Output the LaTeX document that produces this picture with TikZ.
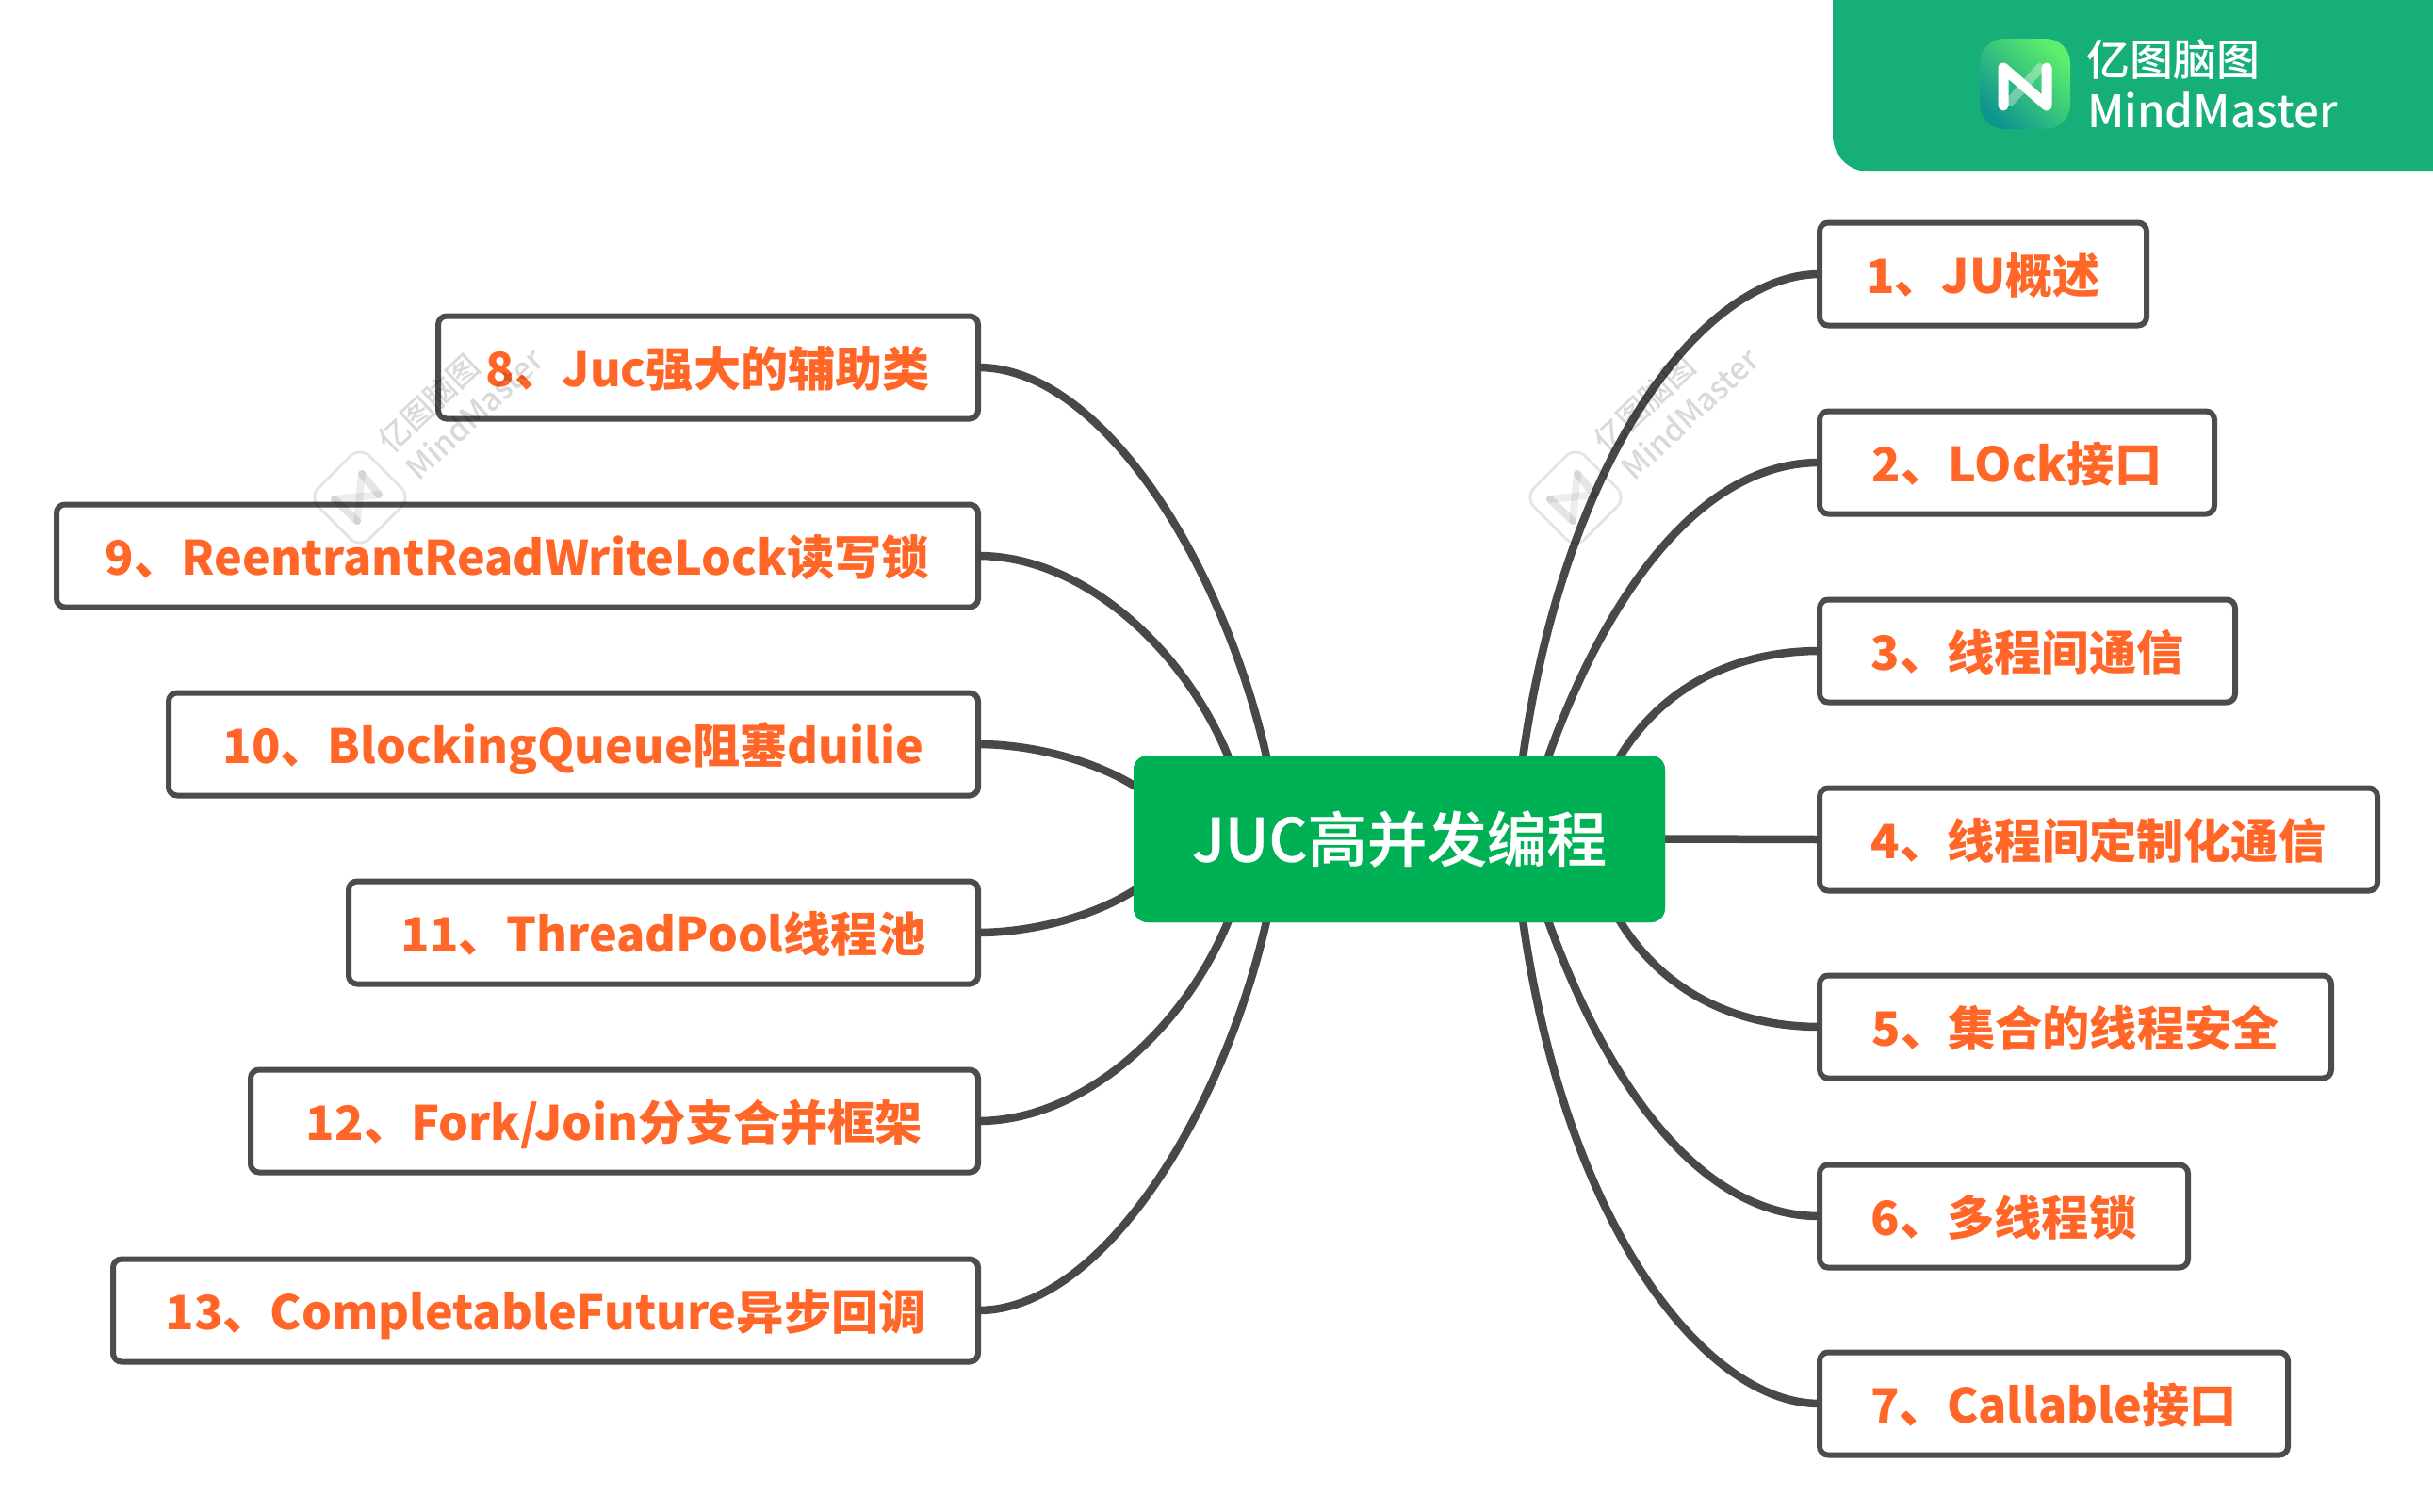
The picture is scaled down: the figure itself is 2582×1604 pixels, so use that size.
\documentclass[tikz,border=0pt]{standalone}
\usepackage{fontspec}
\setmainfont{Noto Sans CJK SC}
\newfontfamily\medfont{Noto Sans CJK SC Medium}
\newfontfamily\rootfont[FakeBold=0.6]{Noto Sans CJK SC Medium}
\definecolor{linegray}{HTML}{484848}
\definecolor{boxgray}{HTML}{4C4C4C}
\definecolor{topicorange}{HTML}{FF6628}
\definecolor{rootgreen}{HTML}{00B055}
\definecolor{bannergreen}{HTML}{16AF78}
\definecolor{logolight}{HTML}{5CEE6C}
\definecolor{logodark}{HTML}{0E958E}
\tikzset{
  topic/.style={draw=boxgray,line width=6pt,fill=white,rounded corners=9pt,inner sep=0pt,outer sep=0pt,
    minimum height=109pt,text=topicorange,text height=47pt,text depth=7pt,font=\fontsize{50.2}{60}\selectfont\bfseries},
  root/.style={fill=rootgreen,rounded corners=15pt,inner sep=0pt,outer sep=0pt,text=white,
    minimum width=564pt,minimum height=177pt,font=\fontsize{63.5}{76}\selectfont\rootfont},
  conn/.style={draw=linegray,line width=8.5pt},
  wmtext/.style={text=black,opacity=.15,text opacity=.15,rotate=43,font=\fontsize{33}{40}\selectfont\medfont,inner sep=0pt},
  wmmark/.pic={
    \draw[black,opacity=.10,line width=3pt,rounded corners=14pt] (-54,0) -- (0,-54) -- (54,0) -- (0,54) -- cycle;
    \draw[black,opacity=.07,line width=8pt,line cap=round] (2,-25) -- (-3,25);
    \draw[black,opacity=.07,line width=8pt,line cap=round] (-27,2) -- (20,-3);
    \draw[black,opacity=.10,line width=8pt,line cap=round] (-27,2) -- (-3,25);
    \draw[black,opacity=.10,line width=8pt,line cap=round] (2,-25) -- (20,-3);
    \node[wmtext] (-name-a) at (73,-100) {亿图脑图};
    \node[wmtext] (-name-b) at (121,-89) {MindMaster};
  }
}
\begin{document}
\begin{tikzpicture}[x=1pt,y=-1pt]
\useasboundingbox (0,0) rectangle (2582,1604);
% banner
\fill[bannergreen,rounded corners=38pt] (1945,-60) rectangle (2642,182);
\shade[rounded corners=26pt,shading=axis,left color=logolight,right color=logodark,shading angle=-45]
  (2101,41) rectangle (2197,137);
\draw[white,opacity=.35,line width=10pt,line cap=round] (2133,108) -- (2165,72);
\draw[white,line width=11pt,line cap=round,line join=round] (2126,112) -- (2126,72) -- (2172,112) -- (2172,72);
\node[anchor=west,inner sep=0pt,text=white,font=\fontsize{46}{54}\selectfont\medfont] (brandcn) at (2214,63) {亿图脑图};
\node[anchor=west,inner sep=0pt,text=white,font=\fontsize{47.5}{54}\selectfont\medfont] (branden) at (2215,117) {MindMaster};
% nodes
\node[root] (c) at (1485,890.5) {JUC高并发编程};
\node[topic,minimum width=347pt] (r1) at (2104.5,291) {1、JU概述};
\node[topic,minimum width=419pt] (r2) at (2140.5,491) {2、LOck接口};
\node[topic,minimum width=441pt] (r3) at (2151.5,691) {3、线程间通信};
\node[topic,minimum width=592pt] (r4) at (2227,891) {4、线程间定制化通信};
\node[topic,minimum width=543pt] (r5) at (2202.5,1090) {5、集合的线程安全};
\node[topic,minimum width=391pt] (r6) at (2126.5,1291) {6、多线程锁};
\node[topic,minimum width=497pt] (r7) at (2179.5,1490) {7、Callable接口};
\node[topic,minimum width=573pt] (l8) at (751.5,390) {8、Juc强大的辅助类};
\node[topic,minimum width=978pt] (l9) at (549,590) {9、ReentrantReadWriteLock读写锁};
\node[topic,minimum width=859pt] (l10) at (608.5,790) {10、BlockingQueue阻塞duilie};
\node[topic,minimum width=668pt] (l11) at (704,990) {11、ThreadPool线程池};
\node[topic,minimum width=772pt] (l12) at (652,1190) {12、Fork/Join分支合并框架};
\node[topic,minimum width=918pt] (l13) at (579,1391) {13、CompletableFuture异步回调};
% connector start points, just inside the central box
\coordinate (sr1) at (1615,812);
\coordinate (sr2) at (1640,812);
\coordinate (sr3) at (1714,812);
\coordinate (sr5) at (1714,969);
\coordinate (sr6) at (1640,969);
\coordinate (sr7) at (1615,969);
\coordinate (sl8) at (1346,812);
\coordinate (sl9) at (1307,812);
\coordinate (sl10) at (1210,838);
\coordinate (sl11) at (1210,941);
\coordinate (sl12) at (1307,969);
\coordinate (sl13) at (1346,969);
\draw[conn] (sr1) .. controls (1660,480) and (1810,291) .. (r1.west);
\draw[conn] (sr2) .. controls (1700,640) and (1800,491) .. (r2.west);
\draw[conn] (sr3) .. controls (1760,730) and (1840,691) .. (r3.west);
\draw[conn] (c.east) -- (r4.west);
\draw[conn] (sr5) .. controls (1760,1051) and (1840,1090) .. (r5.west);
\draw[conn] (sr6) .. controls (1700,1141) and (1800,1291) .. (r6.west);
\draw[conn] (sr7) .. controls (1660,1301) and (1810,1490) .. (r7.west);
\draw[conn] (sl8) .. controls (1300,600) and (1170,390) .. (l8.east);
\draw[conn] (sl9) .. controls (1260,690) and (1150,590) .. (l9.east);
\draw[conn] (sl10) .. controls (1160,805) and (1090,790) .. (l10.east);
\draw[conn] (sl11) .. controls (1160,975) and (1090,990) .. (l11.east);
\draw[conn] (sl12) .. controls (1260,1091) and (1150,1190) .. (l12.east);
\draw[conn] (sl13) .. controls (1300,1180) and (1170,1391) .. (l13.east);
\node[root] (c2) at (c) {JUC高并发编程};
% watermarks
\pic (wa) at (382,528) {wmmark};
\pic (wb) at (1672,528) {wmmark};
\end{tikzpicture}
\end{document}
